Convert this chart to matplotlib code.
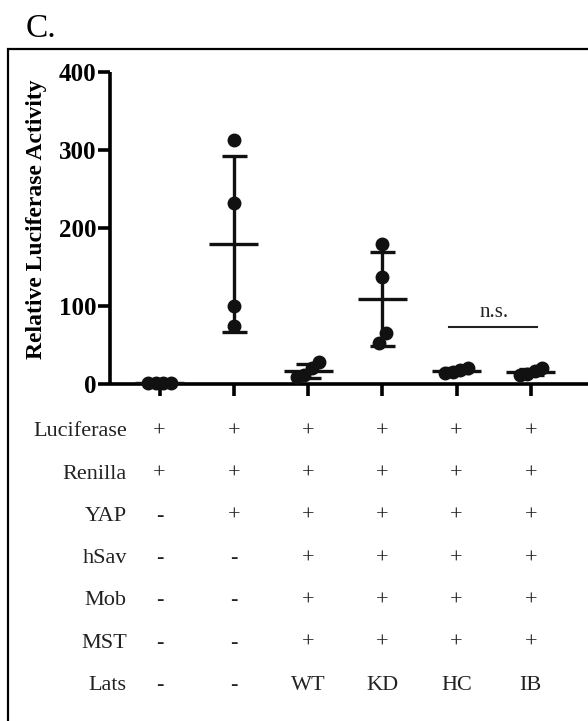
import numpy as np
import matplotlib
matplotlib.use("Agg")
import matplotlib.pyplot as plt
from matplotlib.patches import Rectangle

plt.rcParams["font.family"] = ["Liberation Serif", "DejaVu Serif"]

# measured luciferase activity per condition (4 replicates each)
groups = ["ctrl", "YAP", "WT", "KD", "HC", "IB"]
vals_ctrl = [1.2, 0.9, 1.0, 0.8]
vals_yap = [313, 232, 100, 74]
vals_wt = [28, 20, 11, 9]
vals_kd = [180, 137, 66, 53]
vals_hc = [21, 18, 15, 14]
vals_ib = [20, 17, 13, 11]

ns_pair = ("HC", "IB")

# transfection table under the axis
row_labels = ["Luciferase", "Renilla", "YAP", "hSav", "Mob", "MST", "Lats"]
row_luc = ["+", "+", "+", "+", "+", "+"]
row_ren = ["+", "+", "+", "+", "+", "+"]
row_yap = ["-", "+", "+", "+", "+", "+"]
row_hsav = ["-", "-", "+", "+", "+", "+"]
row_mob = ["-", "-", "+", "+", "+", "+"]
row_mst = ["-", "-", "+", "+", "+", "+"]
row_lats = ["-", "-", "WT", "KD", "HC", "IB"]

yticks = [0, 100, 200, 300, 400]


def swarm_offsets(values, px_per_unit_y, diam_px, spread_px):
    """Cluster points that touch vertically and spread each cluster sideways."""
    order = np.argsort(values)
    offsets = np.zeros(len(values))
    clusters = [[order[0]]]
    for idx in order[1:]:
        prev = clusters[-1][-1]
        if abs(values[idx] - values[prev]) * px_per_unit_y < diam_px * 1.3:
            clusters[-1].append(idx)
        else:
            clusters.append([idx])
    for cl in clusters:
        n = len(cl)
        for k, idx in enumerate(cl):
            offsets[idx] = (k - (n - 1) / 2) * spread_px
    return offsets


W, H = 588, 721
fig = plt.figure(figsize=(W / 100, H / 100), dpi=100)
ax = fig.add_axes([110 / W, 1 - 384 / H, 478 / W, 312 / H])

ax.set_xlim(-0.667, 5.77)
ax.set_ylim(0, 400)
for side in ["top", "right"]:
    ax.spines[side].set_visible(False)
for side in ["left", "bottom"]:
    ax.spines[side].set_linewidth(2.6)
    ax.spines[side].set_capstyle("butt")

xs = np.arange(len(groups))
ax.set_xticks(xs)
ax.set_xticklabels([])
ax.set_yticks(yticks)
ax.set_yticklabels([str(t) for t in yticks], fontsize=18, fontweight="bold")
ax.tick_params(axis="both", direction="out", length=8.6, width=2.6, pad=1)

ax.set_ylabel("Relative Luciferase Activity", fontsize=17, fontweight="bold",
              va="center")
ax.yaxis.set_label_coords(-0.153, 0.527)

# pixel scales for the point spreading
p0 = ax.transData.transform((0, 0))
p1 = ax.transData.transform((1, 100))
px_x = p1[0] - p0[0]
px_y = (p1[1] - p0[1]) / 100

all_vals = [vals_ctrl, vals_yap, vals_wt, vals_kd, vals_hc, vals_ib]
ink = "#111111"
for i, v in enumerate(all_vals):
    v = np.array(v, dtype=float)
    m = v.mean()
    sd = v.std(ddof=1)
    off = swarm_offsets(v, px_y, 12.5, 7.5) / px_x
    ax.plot(i + off, v, "o", ms=9, color=ink, clip_on=False, zorder=3)
    ax.hlines(m, i - 0.33, i + 0.33, color=ink, lw=2.4, zorder=4)
    ax.errorbar(i, m, yerr=sd, fmt="none", ecolor=ink, elinewidth=2.4,
                capsize=9, capthick=2.4, zorder=4)

# n.s. bracket
a, b = groups.index(ns_pair[0]), groups.index(ns_pair[1])
ax.plot([a - 0.1, b + 0.08], [73, 73], color="#222222", lw=1.5)
ax.text((a + b) / 2, 86, "n.s.", ha="center", va="baseline", fontsize=15,
        color="#222222")

# condition table
rows = [row_luc, row_ren, row_yap, row_hsav, row_mob, row_mst, row_lats]
trans = ax.get_xaxis_transform()
y0 = -48 / 312
step = 42.2 / 312
for r, (label, entries) in enumerate(zip(row_labels, rows)):
    y = y0 - r * step
    ax.text(-0.44, y, label, transform=trans, ha="right", va="center",
            fontsize=16, color="#222222", clip_on=False)
    for i, e in enumerate(entries):
        ax.text(i, y, e, transform=trans, ha="center", va="center",
                fontsize=16, color="#222222", clip_on=False)

# panel letter and frame
fig.text(26 / W, 1 - 37 / H, "C.", ha="left", va="baseline", fontsize=24)
fig.patches.append(Rectangle((8 / W, -0.05), 1.1, 1 - 49 / H + 0.05,
                             transform=fig.transFigure, fill=False,
                             edgecolor="black", lw=1.6))

fig.savefig("out.png", dpi=100)
